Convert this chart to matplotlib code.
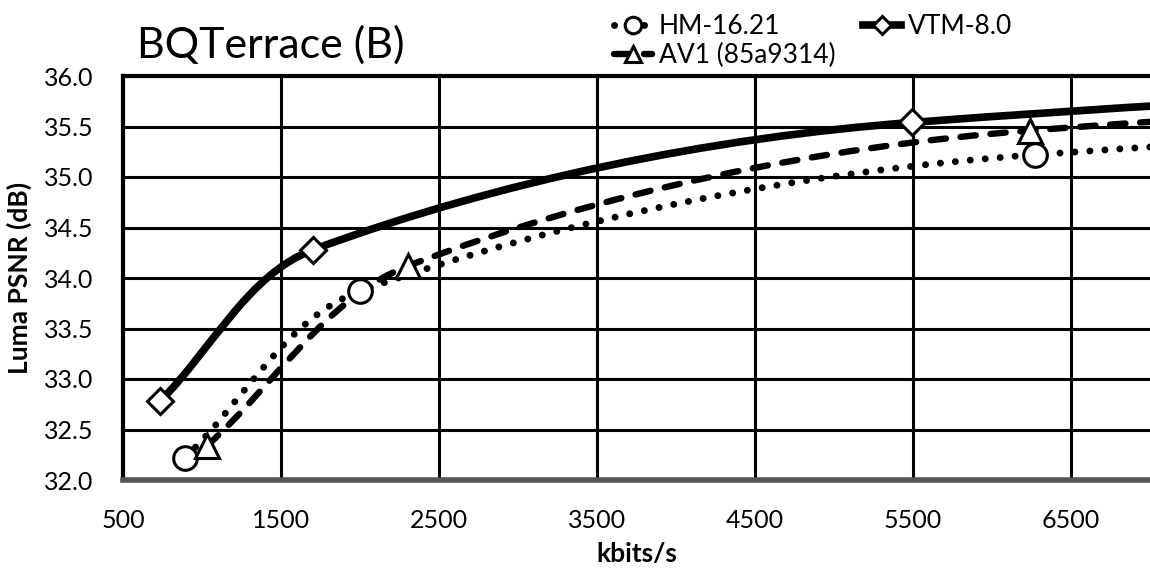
import numpy as np
import matplotlib
matplotlib.use('Agg')
from matplotlib import pyplot as plt
from matplotlib.path import Path
from matplotlib.patches import PathPatch
from matplotlib.lines import Line2D

plt.rcParams['font.family'] = ['Lato', 'DejaVu Sans']

# rate (kbits/s) and luma PSNR (dB); last point of each series is off the chart
hm_rate  = [892, 2000, 6272, 24000]
hm_psnr  = [32.22, 33.87, 35.22, 36.30]
vtm_rate = [734, 1703, 5494, 20000]
vtm_psnr = [32.78, 34.28, 35.54, 36.45]
av1_rate = [1032, 2304, 6240, 21300]
av1_psnr = [32.34, 34.12, 35.46, 36.40]

x_ticks = [500, 1500, 2500, 3500, 4500, 5500, 6500]
y_ticks = [32.0, 32.5, 33.0, 33.5, 34.0, 34.5, 35.0, 35.5, 36.0]

PX_PER_KBPS = 158 / 1000   # only used for the smoothing distances
PX_PER_DB = 101


def smooth_path(xs, ys):
    # Excel-like smoothed line: cubic bezier, control arms scaled by segment length
    p = np.column_stack([xs, ys]).astype(float)
    scale = np.array([PX_PER_KBPS, PX_PER_DB])
    n = len(p)
    d = [np.hypot(*((p[i + 1] - p[i]) * scale)) for i in range(n - 1)]
    verts = [p[0]]
    codes = [Path.MOVETO]
    for i in range(n - 1):
        prev = p[max(i - 1, 0)]
        nxt = p[min(i + 2, n - 1)]
        dprev = d[i - 1] if i > 0 else 0.0
        dnext = d[i + 1] if i + 2 < n else 0.0
        c1 = p[i] + (p[i + 1] - prev) / 3 * d[i] / (dprev + d[i])
        c2 = p[i + 1] - (nxt - p[i]) / 3 * d[i] / (d[i] + dnext)
        verts += [c1, c2, p[i + 1]]
        codes += [Path.CURVE4] * 3
    return Path(verts, codes)


fig = plt.figure(figsize=(11.5, 5.71), dpi=100)
ax = fig.add_axes([123 / 1150, 1 - 480 / 571, 1 - 123 / 1150, (480 - 76) / 571])
ax.set_xlim(500, 7000)
ax.set_ylim(32.0, 36.0)
ax.set_xticks(x_ticks)
ax.set_yticks(y_ticks)
ax.set_yticklabels(['%.1f' % v for v in y_ticks])
ax.tick_params(length=0, labelsize=18, pad=21)
ax.tick_params(axis='x', pad=21)
ax.grid(True, color='black', linewidth=2.2)
ax.set_axisbelow(True)
for s in ['top', 'left']:
    ax.spines[s].set_linewidth(3)
ax.spines['bottom'].set_linewidth(4)
ax.spines['bottom'].set_color('#555555')
ax.spines['right'].set_visible(False)

series = [
    (hm_rate, hm_psnr, 'HM-16.21', 'o', (0, (0.01, 2.15)), 5.0),
    (vtm_rate, vtm_psnr, 'VTM-8.0', 'D', '-', 5.5),
    (av1_rate, av1_psnr, 'AV1 (85a9314)', '^', (0, (2.4, 2.3)), 4.6),
]
handles = {}
for xs, ys, name, mk, ls, lw in series:
    patch = PathPatch(smooth_path(xs, ys), fill=False, edgecolor='black',
                      linewidth=lw, linestyle=ls, capstyle='round', zorder=3)
    ax.add_patch(patch)
    msize = 13 if mk == 'D' else 17
    ax.plot(xs, ys, linestyle='none', marker=mk, markersize=msize,
            markerfacecolor='white', markeredgecolor='black',
            markeredgewidth=2.2, zorder=4)
    handles[name] = Line2D([], [], color='black', linewidth=lw, linestyle=ls,
                           dash_capstyle='round', marker=mk,
                           markersize=msize * 0.7, markerfacecolor='white',
                           markeredgecolor='black', markeredgewidth=2.2)

order = ['HM-16.21', 'AV1 (85a9314)', 'VTM-8.0']
fig.legend([handles[k] for k in order], order, ncol=2, loc='upper left',
           bbox_to_anchor=(614 / 1150, 1 - 14 / 571), frameon=False, fontsize=19,
           handlelength=1.45, handletextpad=0.25, columnspacing=1.05,
           labelspacing=0.15, borderaxespad=0, borderpad=0)

fig.text(137 / 1150, 1 - 58 / 571, 'BQTerrace (B)', fontsize=31,
         ha='left', va='baseline')
ax.set_ylabel('Luma PSNR (dB)', fontsize=19, fontweight='bold', labelpad=9)
ax.set_xlabel('kbits/s', fontsize=19, fontweight='bold', labelpad=7)

fig.savefig('out.png', dpi=100)
